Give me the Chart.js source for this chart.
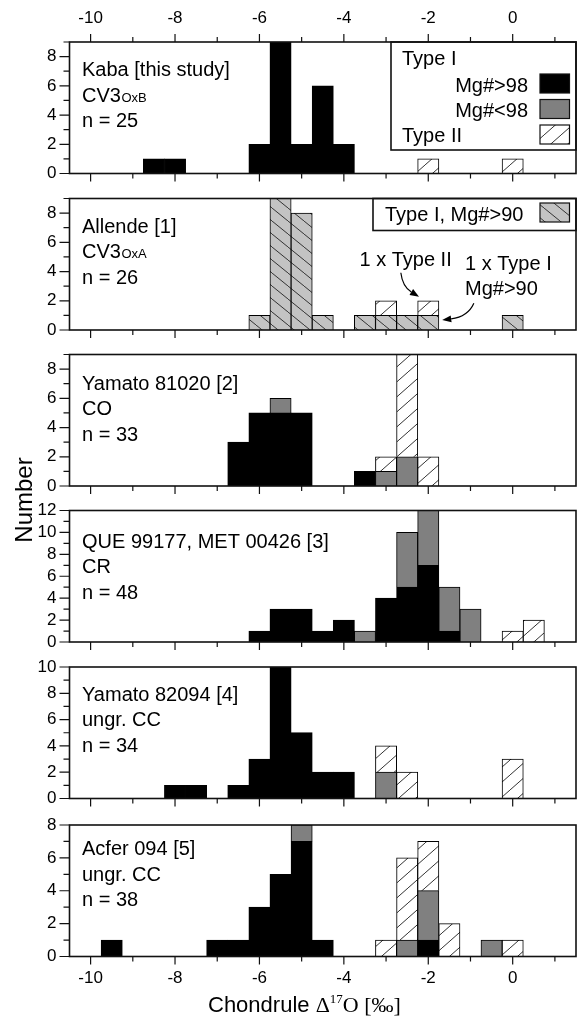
<!DOCTYPE html>
<html>
<head>
<meta charset="utf-8">
<script src="https://cdn.jsdelivr.net/npm/chart.js@4.4.1/dist/chart.umd.min.js"></script>
<style>
  html, body { margin: 0; padding: 0; background: #fff; }
  #fig { position: relative; width: 577px; height: 1017px; overflow: hidden; font-family: "Liberation Sans", Arial, sans-serif; color: #000; }
  #fig canvas { position: absolute; left: 0; }
  #ytitle { position: absolute; left: -36.5px; top: 488px; width: 120px; line-height: 24px; text-align: center; font-size: 24px; transform: rotate(-90deg); z-index: 2; }
  #xtitle { position: absolute; left: 208px; top: 994px; font-size: 22px; line-height: 22px; white-space: nowrap; z-index: 2; }
  #xtitle .serif { font-family: "Liberation Serif", "Times New Roman", serif; }
  #xtitle sup { font-size: 13px; vertical-align: 9px; line-height: 0; }
</style>
</head>
<body>
<div id="fig">
  <div id="ytitle">Number</div>
  <div id="xtitle">Chondrule <span class="serif">Δ<sup>17</sup>O [‰]</span></div>
</div>
<script>
// bin centres of the 0.5 permil histogram bins
const binCenters = [-10, -9.5, -9, -8.5, -8, -7.5, -7, -6.5, -6, -5.5, -5, -4.5, -4, -3.5, -3, -2.5, -2, -1.5, -1, -0.5, 0, 0.5];

// Kaba
const kabaHigh  = [0, 0, 0, 1, 1, 0, 0, 0, 2, 9, 2, 6, 2, 0, 0, 0, 0, 0, 0, 0, 0, 0];
const kabaLow   = [0, 0, 0, 0, 0, 0, 0, 0, 0, 0, 0, 0, 0, 0, 0, 0, 0, 0, 0, 0, 0, 0];
const kabaType2 = [0, 0, 0, 0, 0, 0, 0, 0, 0, 0, 0, 0, 0, 0, 0, 0, 1, 0, 0, 0, 1, 0];

// Allende
const allendeType1 = [0, 0, 0, 0, 0, 0, 0, 0, 1, 9, 8, 1, 0, 1, 1, 1, 1, 0, 0, 0, 1, 0];
const allendeType2 = [0, 0, 0, 0, 0, 0, 0, 0, 0, 0, 0, 0, 0, 0, 1, 0, 1, 0, 0, 0, 0, 0];

// Yamato 81020
const y81High  = [0, 0, 0, 0, 0, 0, 0, 3, 5, 5, 5, 0, 0, 1, 0, 0, 0, 0, 0, 0, 0, 0];
const y81Low   = [0, 0, 0, 0, 0, 0, 0, 0, 0, 1, 0, 0, 0, 0, 1, 2, 0, 0, 0, 0, 0, 0];
const y81Type2 = [0, 0, 0, 0, 0, 0, 0, 0, 0, 0, 0, 0, 0, 0, 1, 7, 2, 0, 0, 0, 0, 0];

// QUE 99177, MET 00426
const crHigh  = [0, 0, 0, 0, 0, 0, 0, 0, 1, 3, 3, 1, 2, 0, 4, 5, 7, 1, 0, 0, 0, 0];
const crLow   = [0, 0, 0, 0, 0, 0, 0, 0, 0, 0, 0, 0, 0, 1, 0, 5, 5, 4, 3, 0, 0, 0];
const crType2 = [0, 0, 0, 0, 0, 0, 0, 0, 0, 0, 0, 0, 0, 0, 0, 0, 0, 0, 0, 0, 1, 2];

// Yamato 82094
const y82High  = [0, 0, 0, 0, 1, 1, 0, 1, 3, 10, 5, 2, 2, 0, 0, 0, 0, 0, 0, 0, 0, 0];
const y82Low   = [0, 0, 0, 0, 0, 0, 0, 0, 0, 0, 0, 0, 0, 0, 2, 0, 0, 0, 0, 0, 0, 0];
const y82Type2 = [0, 0, 0, 0, 0, 0, 0, 0, 0, 0, 0, 0, 0, 0, 2, 2, 0, 0, 0, 0, 3, 0];

// Acfer 094
const acfHigh  = [0, 1, 0, 0, 0, 0, 1, 1, 3, 5, 7, 1, 0, 0, 0, 0, 1, 0, 0, 0, 0, 0];
const acfLow   = [0, 0, 0, 0, 0, 0, 0, 0, 0, 0, 1, 0, 0, 0, 0, 1, 3, 0, 0, 1, 0, 0];
const acfType2 = [0, 0, 0, 0, 0, 0, 0, 0, 0, 0, 0, 0, 0, 0, 1, 5, 3, 2, 0, 0, 1, 0];

const panelNames = [
  ['Kaba [this study]', 'CV3', 'n = 25'],
  ['Allende [1]', 'CV3', 'n = 26'],
  ['Yamato 81020 [2]', 'CO', 'n = 33'],
  ['QUE 99177, MET 00426 [3]', 'CR', 'n = 48'],
  ['Yamato 82094 [4]', 'ungr. CC', 'n = 34'],
  ['Acfer 094 [5]', 'ungr. CC', 'n = 38']
];
const panelSubs = ['OxB', 'OxA', '', '', '', ''];
const yMax = [9, 9, 9, 12, 10, 8];
const xMin = -10, xMax = 1;

const panelSeries = [
  [['high', kabaHigh], ['low', kabaLow], ['type2', kabaType2]],
  [['allende', allendeType1], ['type2', allendeType2]],
  [['high', y81High], ['low', y81Low], ['type2', y81Type2]],
  [['high', crHigh], ['low', crLow], ['type2', crType2]],
  [['high', y82High], ['low', y82Low], ['type2', y82Type2]],
  [['high', acfHigh], ['low', acfLow], ['type2', acfType2]]
];

// layout of the stacked panels (page pixels)
const panelTops = [42, 198.5, 354.5, 510.5, 667, 825];
const panelHeight = 131.5;
const canvasH = 220;
const labelTop = [34, 34, 35, 37, 33.5, 30];

const FONT = "'Liberation Sans', Arial, sans-serif";

const legends = [
  { width: 185, height: 108, rows: [
    { text: 'Type I', tx: -174, ty: 23 },
    { text: 'Mg#>98', tx: -48, ty: 49.5, align: 'right', kind: 'high', sy: 32 },
    { text: 'Mg#<98', tx: -48, ty: 75, align: 'right', kind: 'low', sy: 57.5 },
    { text: 'Type II', tx: -174, ty: 100, kind: 'type2', sy: 83 }
  ]},
  { width: 203, height: 32, rows: [
    { text: 'Type I, Mg#>90', tx: -191, ty: 22, kind: 'allende', sy: 4.5 }
  ]},
  null, null, null, null
];

// Allende call-outs, anchored in data units
const notes = [
  null,
  { texts: [
      { text: '1 x Type II', x: -3.63, y: 4.4 },
      { text: '1 x Type I', x: -1.13, y: 4.1 },
      { text: 'Mg#>90', x: -1.13, y: 2.4 }
    ],
    arrows: [
      { from: [-2.65, 3.92], ctrl: [-2.61, 2.97], to: [-2.22, 2.28] },
      { from: [-0.92, 1.83], ctrl: [-1.06, 0.91], to: [-1.67, 0.68] }
    ]
  },
  null, null, null, null
];

const makeHatch = (ctx, bg, dir, w, h) => {
  const tile = document.createElement('canvas');
  tile.width = w; tile.height = h;
  const g = tile.getContext('2d');
  g.fillStyle = bg;
  g.fillRect(0, 0, w, h);
  g.strokeStyle = '#333';
  g.lineWidth = 1;
  g.beginPath();
  for (const k of [-1, 0, 1]) {
    if (dir > 0) { g.moveTo(k * w, h); g.lineTo(k * w + w, 0); }
    else { g.moveTo(k * w, 0); g.lineTo(k * w + w, h); }
  }
  g.stroke();
  return ctx.createPattern(tile, 'repeat');
};

const overlay = (i, fills) => ({
  id: 'overlay' + i,
  afterDatasetsDraw(chart) {
    const { ctx, chartArea: a, scales: { x, y } } = chart;
    ctx.save();
    // tick marks
    ctx.strokeStyle = '#111';
    ctx.lineWidth = 1.2;
    ctx.beginPath();
    for (let v = Math.ceil(x.min); v <= x.max; v++) {
      const px = x.getPixelForValue(v);
      const len = v % 2 === 0 ? 8 : 5;
      ctx.moveTo(px, a.bottom); ctx.lineTo(px, a.bottom + len);
      if (i === 0) { ctx.moveTo(px, a.top); ctx.lineTo(px, a.top - len); }
    }
    for (let v = Math.ceil(y.min); v <= y.max; v++) {
      const py = y.getPixelForValue(v);
      const len = v % 2 === 0 ? 10 : 6;
      ctx.moveTo(a.left, py); ctx.lineTo(a.left - len, py);
    }
    ctx.stroke();

    // panel label
    ctx.fillStyle = '#000';
    ctx.textBaseline = 'alphabetic';
    panelNames[i].forEach((t, k) => {
      const by = a.top + labelTop[i] + k * 25.5;
      ctx.font = '20px ' + FONT;
      ctx.textAlign = 'left';
      ctx.fillText(t, a.left + 12.5, by);
      if (k === 1 && panelSubs[i]) {
        const w = ctx.measureText(t).width;
        ctx.font = '13px ' + FONT;
        ctx.fillText(panelSubs[i], a.left + 12.5 + w + 0.5, by);
      }
    });

    // legend box
    const lg = legends[i];
    if (lg) {
      const bx = a.right - lg.width;
      ctx.fillStyle = '#fff';
      ctx.fillRect(bx, a.top, lg.width, lg.height);
      ctx.strokeStyle = '#111';
      ctx.lineWidth = 1.6;
      ctx.strokeRect(bx, a.top, lg.width, lg.height);
      ctx.font = '20px ' + FONT;
      lg.rows.forEach(r => {
        ctx.fillStyle = '#000';
        ctx.textAlign = r.align || 'left';
        ctx.fillText(r.text, a.right + r.tx, a.top + r.ty);
        if (r.kind) {
          ctx.fillStyle = fills[r.kind];
          ctx.fillRect(a.right - 36, a.top + r.sy, 29.5, 19);
          ctx.lineWidth = 1.2;
          ctx.strokeRect(a.right - 36, a.top + r.sy, 29.5, 19);
        }
      });
    }

    // call-outs
    const nt = notes[i];
    if (nt) {
      ctx.fillStyle = '#000';
      ctx.textAlign = 'left';
      ctx.font = '20px ' + FONT;
      nt.texts.forEach(t => ctx.fillText(t.text, x.getPixelForValue(t.x), y.getPixelForValue(t.y)));
      ctx.strokeStyle = '#000';
      ctx.lineWidth = 1.2;
      nt.arrows.forEach(ar => {
        const p0 = [x.getPixelForValue(ar.from[0]), y.getPixelForValue(ar.from[1])];
        const c = [x.getPixelForValue(ar.ctrl[0]), y.getPixelForValue(ar.ctrl[1])];
        const p1 = [x.getPixelForValue(ar.to[0]), y.getPixelForValue(ar.to[1])];
        const ang = Math.atan2(p1[1] - c[1], p1[0] - c[0]);
        const hl = 9, hw = 3.5;
        const bxp = p1[0] - hl * Math.cos(ang), byp = p1[1] - hl * Math.sin(ang);
        ctx.beginPath();
        ctx.moveTo(p0[0], p0[1]);
        ctx.quadraticCurveTo(c[0], c[1], bxp, byp);
        ctx.stroke();
        ctx.beginPath();
        ctx.moveTo(p1[0], p1[1]);
        ctx.lineTo(bxp + hw * Math.sin(ang), byp - hw * Math.cos(ang));
        ctx.lineTo(bxp - hw * Math.sin(ang), byp + hw * Math.cos(ang));
        ctx.closePath();
        ctx.fill();
      });
    }

    // frame
    ctx.strokeStyle = '#111';
    ctx.lineWidth = 1.6;
    ctx.strokeRect(a.left, a.top, a.right - a.left, a.bottom - a.top);
    ctx.restore();
  }
});

const fig = document.getElementById('fig');
const last = panelTops.length - 1;

panelTops.forEach((top, i) => {
  const canvas = document.createElement('canvas');
  const canvasTop = Math.floor(top) - 42;
  const padTop = top - canvasTop;
  const padBottom = canvasH - padTop - panelHeight;
  canvas.width = 577;
  canvas.height = canvasH;
  canvas.style.top = canvasTop + 'px';
  fig.appendChild(canvas);
  const ctx = canvas.getContext('2d');

  const fills = {
    high: '#000',
    low: '#808080',
    type2: makeHatch(ctx, '#fff', 1, 17, 15),
    allende: makeHatch(ctx, '#c3c3c3', -1, 16, 13)
  };

  // empty bins become null so that no zero-height bar is drawn
  const datasets = panelSeries[i].map(([kind, values]) => ({
    label: kind,
    data: binCenters.map((c, k) => ({ x: c, y: values[k] || null })),
    backgroundColor: fills[kind],
    borderColor: '#000',
    borderWidth: { top: 1, right: 1, bottom: 0, left: 1 },
    borderSkipped: false,
    inflateAmount: 0.4,
    barPercentage: 1,
    categoryPercentage: 1
  }));

  const showX = i === 0 || i === last;

  new Chart(ctx, {
    type: 'bar',
    data: { datasets },
    plugins: [overlay(i, fills)],
    options: {
      responsive: false,
      animation: false,
      devicePixelRatio: 1,
      events: [],
      layout: {
        padding: {
          left: 0,
          right: 1,
          top: i === 0 ? 0 : padTop,
          bottom: i === last ? 0 : padBottom
        }
      },
      plugins: { legend: { display: false }, tooltip: { enabled: false } },
      scales: {
        x: {
          type: 'linear',
          min: xMin,
          max: xMax,
          stacked: true,
          display: showX,
          position: i === 0 ? 'top' : 'bottom',
          grid: { display: false, drawTicks: false },
          border: { display: false },
          ticks: {
            stepSize: 1,
            autoSkip: false,
            maxRotation: 0,
            padding: i === 0 ? 13.5 : 11.5,
            color: '#000',
            font: { family: FONT, size: 17 },
            callback: v => (v % 2 === 0 ? String(v) : '')
          },
          afterFit: s => {
            if (showX) s.height = i === 0 ? padTop : padBottom;
          }
        },
        y: {
          min: 0,
          max: yMax[i],
          stacked: true,
          grid: { display: false, drawTicks: false },
          border: { display: false },
          ticks: {
            stepSize: 1,
            autoSkip: false,
            padding: 13,
            color: '#000',
            font: { family: FONT, size: 17 },
            callback: v => (v % 2 === 0 ? String(v) : '')
          },
          afterFit: s => { s.width = 69.5; }
        }
      }
    }
  });
});
</script>
</body>
</html>
